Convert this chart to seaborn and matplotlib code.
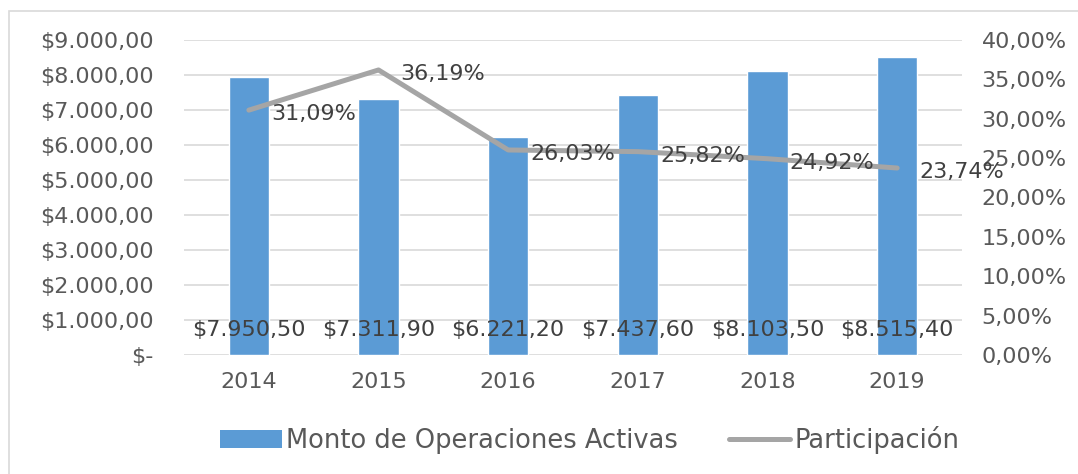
import matplotlib
matplotlib.use("Agg")
import matplotlib.pyplot as plt
import seaborn as sns
import pandas as pd
from matplotlib.patches import Rectangle, Patch
from matplotlib.lines import Line2D
from matplotlib.ticker import FuncFormatter

years = ["2014", "2015", "2016", "2017", "2018", "2019"]
monto = [7950.50, 7311.90, 6221.20, 7437.60, 8103.50, 8515.40]
participacion = [31.09, 36.19, 26.03, 25.82, 24.92, 23.74]
left_ticks = [0, 1000, 2000, 3000, 4000, 5000, 6000, 7000, 8000, 9000]
right_ticks = [0, 5, 10, 15, 20, 25, 30, 35, 40]

BLUE = "#5B9BD5"
GRAY = "#A5A5A5"
TICK_C = "#595959"
LAB_C = "#404040"
FS = 16

sns.set_theme(style="white")
plt.rcParams["font.family"] = ["DejaVu Sans"]

df = pd.DataFrame({"Año": years, "Monto": monto, "Part": participacion})

fig = plt.figure(figsize=(10.78, 4.74), dpi=100)
ax = fig.add_axes([0.1707, 0.2511, 0.7217, 0.6646])

sns.barplot(data=df, x="Año", y="Monto", color=BLUE, width=0.31, saturation=1, ax=ax)
ax.set_ylim(0, 9000)
ax.set_yticks(left_ticks)
def money(v, p):
    if v == 0:
        return "$-"
    s = f"{v:,.2f}".replace(",", "X").replace(".", ",").replace("X", ".")
    return "$" + s
ax.yaxis.set_major_formatter(FuncFormatter(money))
ax.grid(axis="y", color="#D9D9D9", linewidth=1.2)
ax.set_axisbelow(True)
for s in ax.spines.values():
    s.set_visible(False)
ax.tick_params(axis="y", length=0, pad=22, labelsize=FS, labelcolor=TICK_C)
ax.tick_params(axis="x", length=0, pad=12, labelsize=FS, labelcolor=TICK_C)
ax.set_xlabel("")
ax.set_ylabel("")
ax.set_xlim(-0.5, 5.5)

for i, v in enumerate(monto):
    s = f"{v:,.2f}".replace(",", "X").replace(".", ",").replace("X", ".")
    ax.annotate("$" + s, xy=(i, 0), xytext=(0, 18), textcoords="offset points",
                ha="center", va="center", fontsize=FS, color=LAB_C)

ax2 = ax.twinx()
sns.lineplot(data=df, x="Año", y="Part", color=GRAY, linewidth=3.6, ax=ax2, legend=False)
ax2.set_ylim(0, 40)
ax2.set_yticks(right_ticks)
ax2.yaxis.set_major_formatter(FuncFormatter(lambda v, p: f"{v:.2f}".replace(".", ",") + "%"))
ax2.tick_params(axis="y", length=0, pad=14, labelsize=FS, labelcolor=TICK_C)
ax2.grid(False)
for s in ax2.spines.values():
    s.set_visible(False)
ax2.set_ylabel("")
ax2.set_xlabel("")
ax2.set_xlim(-0.5, 5.5)

for i, v in enumerate(participacion):
    ax2.annotate(f"{v:.2f}".replace(".", ",") + "%", xy=(i, v), xytext=(16, -3),
                 textcoords="offset points", ha="left", va="center",
                 fontsize=FS, color=LAB_C)

handles = [Patch(facecolor=BLUE, edgecolor="none"),
           Line2D([0], [0], color=GRAY, linewidth=3.6)]
fig.legend(handles, ["Monto de Operaciones Activas", "Participación"],
           loc="center", bbox_to_anchor=(0.547, 0.072), ncol=2, frameon=False,
           fontsize=18.5, labelcolor=TICK_C, handlelength=2.4, handletextpad=0.15,
           columnspacing=2.0)

fig.patches.append(Rectangle((9 / 1078, -20 / 474), 1100 / 1078, 483 / 474,
                             transform=fig.transFigure, fill=False,
                             edgecolor="#D9D9D9", linewidth=1.2))

fig.savefig("out.png", dpi=100)
